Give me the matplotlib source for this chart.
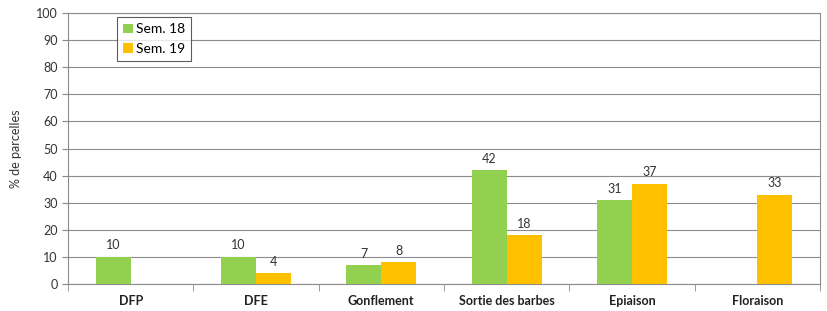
import matplotlib
matplotlib.use("Agg")
import matplotlib.pyplot as plt
import numpy as np

categories = ["DFP", "DFE", "Gonflement", "Sortie des barbes", "Epiaison", "Floraison"]
sem18 = [10, 10, 7, 42, 31, 0]
sem19 = [0, 4, 8, 18, 37, 33]
series_names = ["Sem. 18", "Sem. 19"]
colors = ["#92D050", "#FFC000"]

plt.rcParams['font.family'] = ['Lato', 'DejaVu Sans']

fig = plt.figure(figsize=(8.27, 3.11), dpi=100)
ax = fig.add_axes([0.0822, 0.0868, 0.9093, 0.8712])

x = np.arange(len(categories))
w = 0.28
for i, (vals, name, c) in enumerate(zip([sem18, sem19], series_names, colors)):
    off = (i - 0.5) * w
    bars = ax.bar(x + off, vals, w, color=c, label=name, zorder=3)
    for xi, v in zip(x + off, vals):
        if v > 0:
            ax.text(xi, v + 2, str(v), ha="center", va="bottom", fontsize=9, color="#333333")

ax.set_xlim(-0.5, len(categories) - 0.5)
ax.set_ylim(0, 100)
ax.set_yticks(range(0, 101, 10))
ax.tick_params(axis="y", labelsize=9, colors="#333333", length=4, color="#888888")
ax.set_xticks(x)
ax.set_xticklabels(categories, fontsize=9, fontweight="bold", color="#222222")
ax.tick_params(axis="x", length=0, pad=8)
ax.set_xticks(np.arange(-0.5, len(categories), 1), minor=True)
ax.tick_params(axis="x", which="minor", length=5, color="#888888")
ax.grid(axis="y", color="#8c8c8c", linewidth=0.8, zorder=0)
for s in ax.spines.values():
    s.set_color("#8c8c8c")
    s.set_linewidth(0.8)
ax.set_ylabel("% de parcelles", fontsize=9, color="#333333", labelpad=10)

leg = ax.legend(loc="upper left", bbox_to_anchor=(0.065, 0.985), fontsize=10, frameon=True,
                fancybox=False, edgecolor="#333333", handlelength=0.7, handleheight=0.7,
                handletextpad=0.2, borderpad=0.45, labelspacing=0.55, borderaxespad=0)
leg.get_frame().set_linewidth(0.8)

fig.savefig("out.png", dpi=100)
